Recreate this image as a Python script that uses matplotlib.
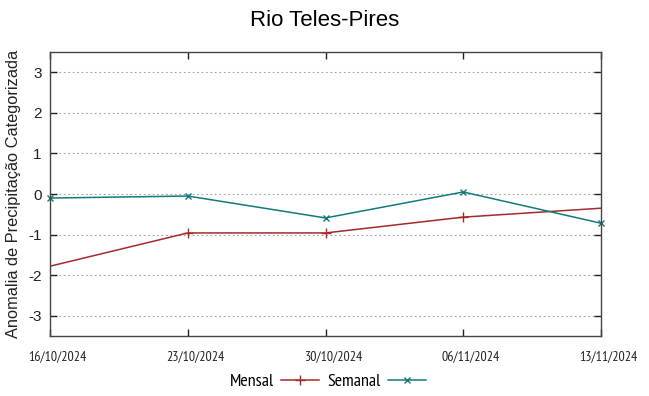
import matplotlib
matplotlib.use("Agg")
import matplotlib.pyplot as plt
import matplotlib.transforms as mtrans
import numpy as np

dates = ["16/10/2024", "23/10/2024", "30/10/2024", "06/11/2024", "13/11/2024"]
mensal = [-1.78, -0.96, -0.96, -0.57, -0.35]
semanal = [-0.10, -0.05, -0.59, 0.05, -0.72]
yticks = [-3, -2, -1, 0, 1, 2, 3]

plt.rcParams['font.family'] = ['Liberation Sans', 'DejaVu Sans']
narrow = ['PT Sans Narrow', 'Roboto Condensed', 'Liberation Sans']

fig = plt.figure(figsize=(6.49, 3.96), dpi=100)
ax = fig.add_axes([50/649, 1-336/396, (601-50)/649, (336-52)/396])

x = np.arange(len(dates))
ax.plot(x, mensal, color='#a52a2a', lw=1.1, marker='+', ms=7, mew=1.0,
        markevery=[1, 2, 3], label='Mensal', clip_on=True)
ax.plot(x, semanal, color='#137a7a', lw=1.1, marker='x', ms=5, mew=1.0,
        label='Semanal', clip_on=False)

ax.set_xlim(0, len(dates) - 1)
ax.set_ylim(-3.5, 3.5)
ax.set_yticks(yticks)
ax.set_yticklabels([str(v) for v in yticks], fontsize=11)
ax.set_xticks(x)
ax.set_xticklabels(dates, fontsize=10, family=narrow)
ax.tick_params(direction='in', top=True, right=True, length=5, width=1, colors='#222222', pad=6)
ax.tick_params(axis='x', pad=10.5)
offset = mtrans.ScaledTranslation(7.5/100, 0, fig.dpi_scale_trans)
for lab in ax.get_xticklabels():
    lab.set_transform(lab.get_transform() + offset)
for lab in ax.get_xticklabels() + ax.get_yticklabels():
    lab.set_color('#222222')
ax.grid(axis='y', linestyle=(0, (1.5, 2.5)), color='#a0a0a0', lw=0.8)
for s in ax.spines.values():
    s.set_color('#444444')
    s.set_linewidth(1.0)

ax.set_ylabel('Anomalia de Precipitação Categorizada', fontsize=11.8, color='#222222', labelpad=5)
fig.text(325/649, 1-20/396, 'Rio Teles-Pires', ha='center', va='center', fontsize=16)

leg = fig.legend(loc='center', bbox_to_anchor=(327.5/649, 1-382/396), ncol=2, frameon=False,
                 markerfirst=False, handlelength=2.1, columnspacing=0.45,
                 handletextpad=0.4, prop={'family': narrow, 'size': 13})

fig.savefig('out.png', dpi=100)
